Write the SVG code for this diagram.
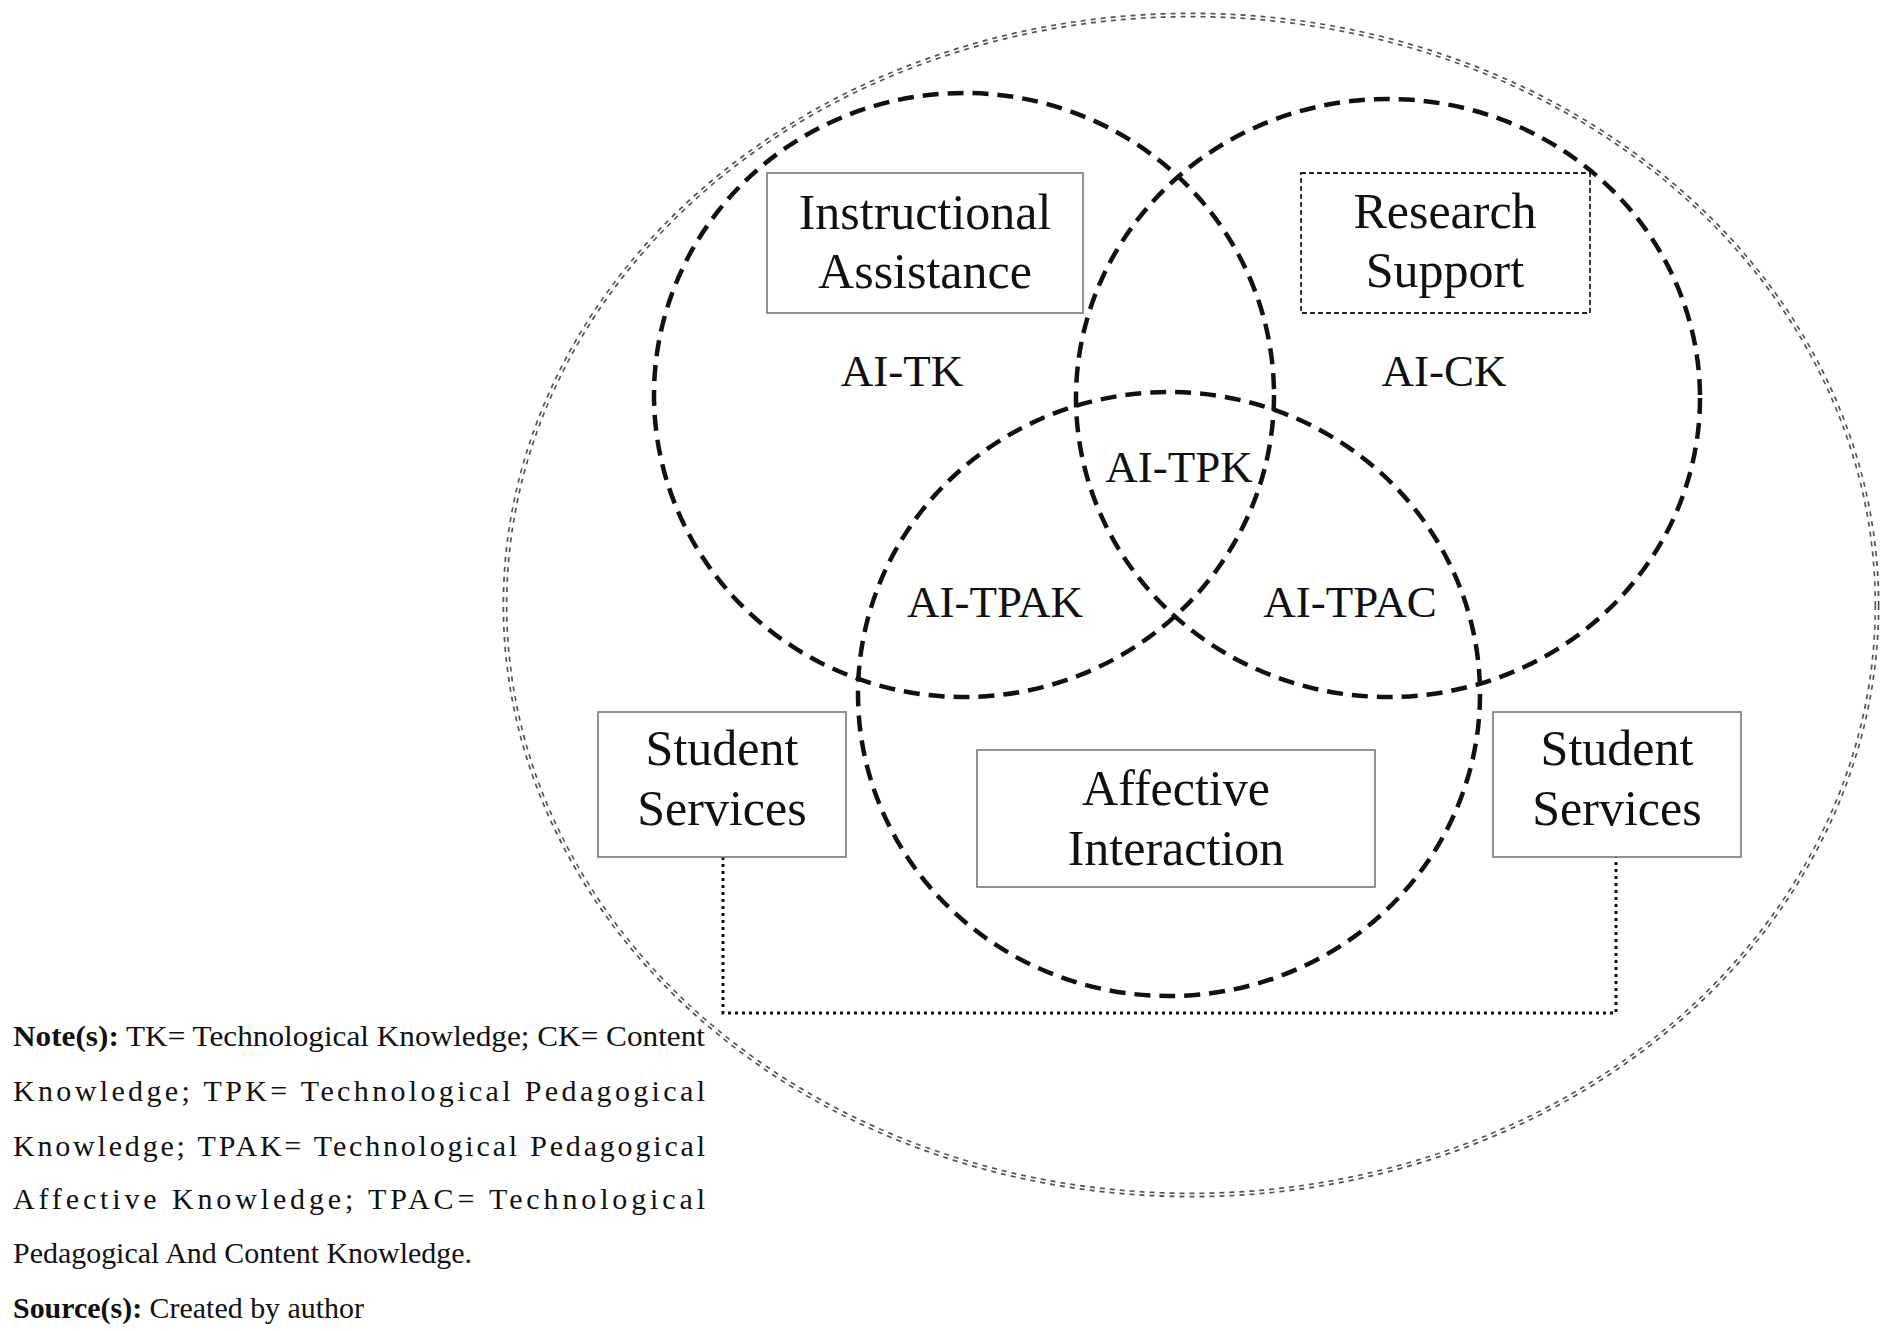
<svg xmlns="http://www.w3.org/2000/svg" width="1890" height="1331" viewBox="0 0 1890 1331">
<style>
.t{font-family:"Liberation Serif","Times New Roman",serif;fill:#111;}
.box{font-size:50px;text-anchor:middle;}
.lbl{font-size:45px;text-anchor:middle;}
.note{font-size:30px;}
.b{font-weight:bold;}
.circ{fill:none;stroke:#111;stroke-width:4.5;stroke-dasharray:16 9;}
.rect{fill:#fff;stroke:#777;stroke-width:1.6;}
.rectd{fill:#fff;stroke:#222;stroke-width:1.8;stroke-dasharray:5 3;}
.conn{fill:none;stroke:#111;stroke-width:3;stroke-dasharray:3 4;}
</style>
<rect width="1890" height="1331" fill="#fff"/>
<g id="outer-ellipse">
<ellipse cx="1191" cy="605" rx="686" ry="590" fill="none" stroke="#555" stroke-width="5" stroke-dasharray="5 5"/>
<ellipse cx="1191" cy="605" rx="686" ry="590" fill="none" stroke="#fff" stroke-width="1.6"/>
</g>
<g id="circle-tk"><ellipse class="circ" cx="964" cy="395" rx="310" ry="302"/></g>
<g id="circle-ck"><ellipse class="circ" cx="1388" cy="398" rx="312" ry="299"/></g>
<g id="circle-affective"><ellipse class="circ" cx="1169" cy="694" rx="311" ry="302"/></g>
<g id="connectors">
<polyline class="conn" points="723,857 723,1013 1616,1013 1616,857"/>
</g>
<g id="node-instructional">
<rect class="rect" x="767" y="173" width="316" height="140"/>
<text class="t box" x="925" y="229">Instructional</text>
<text class="t box" x="925" y="288">Assistance</text>
</g>
<g id="node-research">
<rect class="rectd" x="1301" y="173" width="289" height="140"/>
<text class="t box" x="1445" y="228">Research</text>
<text class="t box" x="1445" y="287">Support</text>
</g>
<g id="node-student-left">
<rect class="rect" x="598" y="712" width="248" height="145"/>
<text class="t box" x="722" y="765">Student</text>
<text class="t box" x="722" y="825">Services</text>
</g>
<g id="node-student-right">
<rect class="rect" x="1493" y="712" width="248" height="145"/>
<text class="t box" x="1617" y="765">Student</text>
<text class="t box" x="1617" y="825">Services</text>
</g>
<g id="node-affective">
<rect class="rect" x="977" y="750" width="398" height="137"/>
<text class="t box" x="1176" y="805">Affective</text>
<text class="t box" x="1176" y="865">Interaction</text>
</g>
<g id="labels">
<text class="t lbl" x="902" y="386">AI-TK</text>
<text class="t lbl" x="1444" y="386">AI-CK</text>
<text class="t lbl" x="1179" y="482">AI-TPK</text>
<text class="t lbl" x="995" y="617">AI-TPAK</text>
<text class="t lbl" x="1350" y="617">AI-TPAC</text>
</g>
<g id="notes">
<text class="t note" x="13" y="1046" textLength="692" lengthAdjust="spacingAndGlyphs"><tspan class="b">Note(s):</tspan> TK= Technological Knowledge; CK= Content</text>
<text class="t note" x="13" y="1101" textLength="692" lengthAdjust="spacing">Knowledge; TPK= Technological Pedagogical</text>
<text class="t note" x="13" y="1156" textLength="692" lengthAdjust="spacing">Knowledge; TPAK= Technological Pedagogical</text>
<text class="t note" x="13" y="1209" textLength="692" lengthAdjust="spacing">Affective Knowledge; TPAC= Technological</text>
<text class="t note" x="13" y="1263" textLength="459" lengthAdjust="spacingAndGlyphs">Pedagogical And Content Knowledge.</text>
<text class="t note" x="13" y="1318" textLength="351" lengthAdjust="spacingAndGlyphs"><tspan class="b">Source(s):</tspan> Created by author</text>
</g>
</svg>
